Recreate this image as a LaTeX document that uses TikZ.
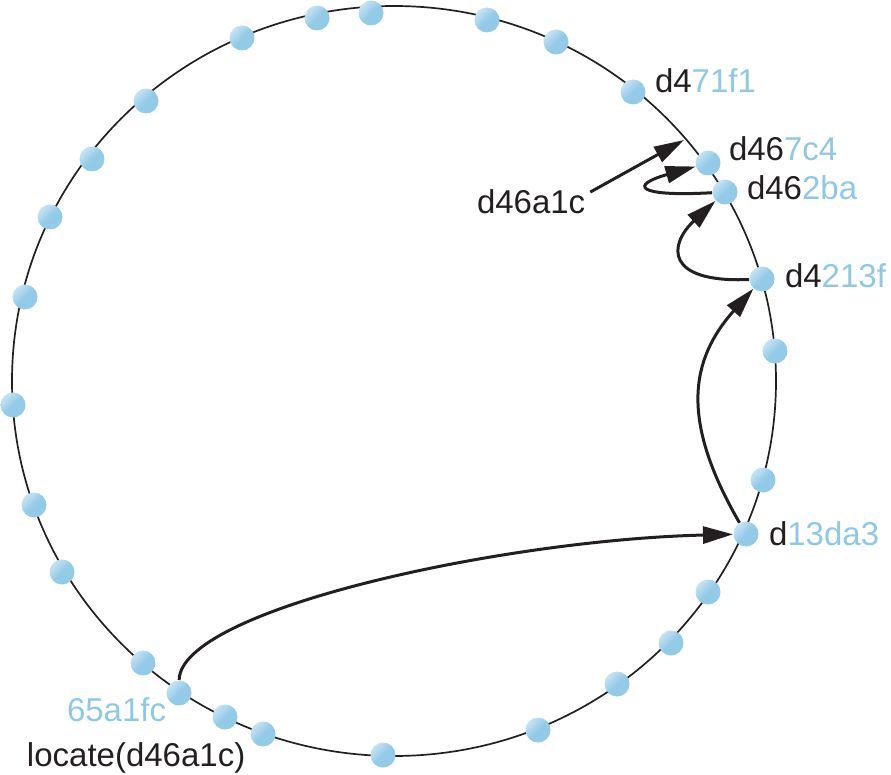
\documentclass[tikz,border=0pt]{standalone}
\usepackage{fontspec}
\setmainfont{Liberation Sans}
\usetikzlibrary{arrows.meta}
\definecolor{dotblue}{HTML}{93CAE7}
\definecolor{dotlight}{HTML}{C6E3F3}
\definecolor{txtblue}{HTML}{8EC8E7}
\definecolor{ink}{HTML}{231F20}
\tikzset{
  dot/.style={circle, minimum size=25pt, inner sep=0pt, outer sep=0.5pt,
    top color=dotlight, bottom color=dotblue, middle color=dotblue, shading angle=45},
  ring/.style={draw=ink, line width=1.7pt},
  hop/.style={draw=ink, line width=3pt, -{Triangle[length=30pt,width=17pt]}},
  lbl/.style={anchor=base west, inner sep=0pt, outer sep=0pt, text=ink,
    font=\fontsize{33}{38}\selectfont},
  blu/.style={lbl, text=txtblue}
}
\begin{document}
\begin{tikzpicture}[x=1pt,y=-1pt]
\useasboundingbox (0,0) rectangle (891,775);
\draw[ring] (394,381) ellipse [x radius=382pt, y radius=375pt];
% dots
\node[dot] (n1) at (371,13) {};
\node[dot] (n2) at (317,18) {};
\node[dot] (n3) at (242,38) {};
\node[dot] (n4) at (487,20) {};
\node[dot] (n5) at (556,42) {};
\node[dot] (n6) at (633,92) {};
\node[dot] (n7) at (146,101) {};
\node[dot] (n8) at (92,159) {};
\node[dot] (n9) at (50,217) {};
\node[dot] (n10) at (25,297) {};
\node[dot] (n11) at (13,405) {};
\node[dot] (n12) at (34,505) {};
\node[dot] (n13) at (62,572) {};
\node[dot] (n14) at (143,663) {};
\node[dot] (n15) at (179,693) {};
\node[dot] (n16) at (225,717) {};
\node[dot] (n17) at (263,734) {};
\node[dot] (n18) at (383,755) {};
\node[dot] (n19) at (538,730) {};
\node[dot] (n20) at (617,684) {};
\node[dot] (n21) at (671,643) {};
\node[dot] (n22) at (708,592) {};
\node[dot] (n23) at (746,534) {};
\node[dot] (n24) at (763,480) {};
\node[dot] (n25) at (775,351) {};
\node[dot] (n26) at (762,279) {};
\node[dot] (n27) at (725,192) {};
\node[dot] (n28) at (708,163) {};
% labels
\node[lbl] (l6) at (655,93) {d4\textcolor{txtblue}{71f1}};
\node[lbl] (l28) at (729,161) {d46\textcolor{txtblue}{7c4}};
\node[lbl] (l27) at (747,200) {d46\textcolor{txtblue}{2ba}};
\node[lbl] (l26) at (785,288) {d4\textcolor{txtblue}{213f}};
\node[lbl] (l23) at (769,545) {d\textcolor{txtblue}{13da3}};
\node[blu] (l15) at (67,721) {65a1fc};
\node[lbl] (loc) at (27,766) {locate(d46a1c)};
\node[lbl] (key) at (477,214) {d46a1c};
\coordinate (hit) at (684,140);
% lookup hops
\draw[hop] (n15) .. controls (180,610) and (500,540) .. (n23);
\draw[hop] (n23) .. controls (680,420) and (690,360) .. (n26);
\draw[hop] (n26) .. controls (665,283) and (668,245) .. (n27);
\draw[hop] (n27) .. controls (635,197) and (630,185) .. (n28);
\draw[hop] ([shift={(5pt,-2pt)}]key.north east) -- (hit);
\end{tikzpicture}
\end{document}
